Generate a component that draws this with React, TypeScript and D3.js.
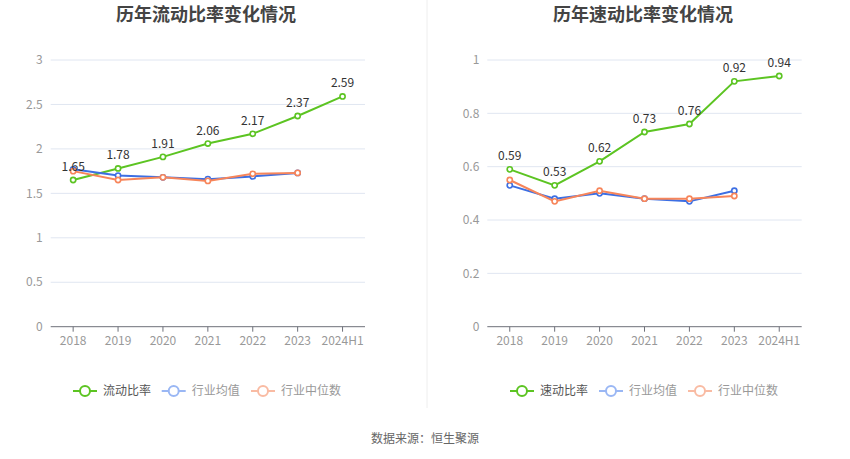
import React from "react";
import * as d3 from "d3";

const categories = ["2018", "2019", "2020", "2021", "2022", "2023", "2024H1"];

const currentRatio = [1.65, 1.78, 1.91, 2.06, 2.17, 2.37, 2.59];
const currentIndustryAvg = [1.77, 1.7, 1.68, 1.66, 1.69, 1.73];
const currentIndustryMedian = [1.75, 1.65, 1.68, 1.64, 1.72, 1.73];
const currentTicks = [0, 0.5, 1, 1.5, 2, 2.5, 3];

const quickRatio = [0.59, 0.53, 0.62, 0.73, 0.76, 0.92, 0.94];
const quickIndustryAvg = [0.53, 0.48, 0.5, 0.48, 0.47, 0.51];
const quickIndustryMedian = [0.55, 0.47, 0.51, 0.48, 0.48, 0.49];
const quickTicks = [0, 0.2, 0.4, 0.6, 0.8, 1];

const GREEN = "#5cc422";
const BLUE = "#3d6fe3";
const ORANGE = "#f7855a";
const FONT = "'Noto Sans CJK SC', 'Noto Sans', sans-serif";

type PanelProps = {
  title: string;
  titleX: number;
  x0: number;
  x1: number;
  yMax: number;
  ticks: number[];
  main: number[];
  avg: number[];
  median: number[];
  legendMain: string;
  legendX: number[];
};

function Panel(p: PanelProps) {
  const yTop = 60;
  const yBottom = 326.7;
  const x = d3.scaleBand<string>().domain(categories).range([p.x0, p.x1]);
  const cx = (c: string) => (x(c) as number) + x.bandwidth() / 2;
  const y = d3.scaleLinear().domain([0, p.yMax]).range([yBottom, yTop]);
  const line = d3
    .line<number>()
    .x((_, i) => cx(categories[i]))
    .y((d) => y(d));

  const series = [
    { data: p.main, color: GREEN },
    { data: p.avg, color: BLUE },
    { data: p.median, color: ORANGE },
  ];
  const legendItems = [
    { label: p.legendMain, color: GREEN, text: "#555" },
    { label: "行业均值", color: "#9ab7f4", text: "#999" },
    { label: "行业中位数", color: "#f9bba3", text: "#999" },
  ];

  return (
    <g>
      <text
        x={p.titleX}
        y={21}
        textAnchor="middle"
        fontSize={18}
        fontWeight="bold"
        fill="#444"
        fontFamily={FONT}
      >
        {p.title}
      </text>
      {p.ticks.map((t) => (
        <g key={t}>
          {t !== 0 && (
            <line x1={p.x0} x2={p.x1} y1={y(t)} y2={y(t)} stroke="#e0e6f1" strokeWidth={1} />
          )}
          <text
            x={p.x0 - 8}
            y={y(t)}
            dy="0.35em"
            textAnchor="end"
            fontSize={12}
            fill="#999"
            fontFamily={FONT}
          >
            {t}
          </text>
        </g>
      ))}
      <line x1={p.x0} x2={p.x1} y1={yBottom} y2={yBottom} stroke="#6e7079" strokeWidth={1} />
      {categories.map((c) => (
        <g key={c}>
          <line x1={cx(c)} x2={cx(c)} y1={yBottom} y2={yBottom + 5} stroke="#6e7079" strokeWidth={1} />
          <text
            x={cx(c)}
            y={yBottom + 18}
            textAnchor="middle"
            fontSize={12}
            fill="#999"
            fontFamily={FONT}
          >
            {c}
          </text>
        </g>
      ))}
      {series.map((s, si) => (
        <g key={si}>
          <path d={line(s.data) || ""} fill="none" stroke={s.color} strokeWidth={2} />
          {s.data.map((v, i) => (
            <circle
              key={i}
              cx={cx(categories[i])}
              cy={y(v)}
              r={2.6}
              fill="#fff"
              stroke={s.color}
              strokeWidth={1.6}
            />
          ))}
        </g>
      ))}
      {p.main.map((v, i) => (
        <text
          key={i}
          x={cx(categories[i])}
          y={y(v) - 9}
          textAnchor="middle"
          fontSize={12}
          fill="#333"
          fontFamily={FONT}
        >
          {v.toFixed(2)}
        </text>
      ))}
      {legendItems.map((it, i) => (
        <g key={i}>
          <line
            x1={p.legendX[i]}
            x2={p.legendX[i] + 24}
            y1={391}
            y2={391}
            stroke={it.color}
            strokeWidth={2}
          />
          <circle cx={p.legendX[i] + 12} cy={391} r={5} fill="#fff" stroke={it.color} strokeWidth={2} />
          <text
            x={p.legendX[i] + 30}
            y={391}
            dy="0.35em"
            fontSize={12}
            fill={it.text}
            fontFamily={FONT}
          >
            {it.label}
          </text>
        </g>
      ))}
    </g>
  );
}

export default function App() {
  return (
    <svg
      width={850}
      height={459}
      style={{ position: "absolute", left: 0, top: 0, background: "#fff" }}
    >
      <rect width={850} height={459} fill="#fff" />
      <Panel
        title="历年流动比率变化情况"
        titleX={206}
        x0={50.7}
        x1={365}
        yMax={3}
        ticks={currentTicks}
        main={currentRatio}
        avg={currentIndustryAvg}
        median={currentIndustryMedian}
        legendMain="流动比率"
        legendX={[73, 161.7, 251]}
      />
      <Panel
        title="历年速动比率变化情况"
        titleX={643}
        x0={487.3}
        x1={801.7}
        yMax={1}
        ticks={quickTicks}
        main={quickRatio}
        avg={quickIndustryAvg}
        median={quickIndustryMedian}
        legendMain="速动比率"
        legendX={[510, 599, 688]}
      />
      <line x1={427} x2={427} y1={0} y2={408} stroke="#eee" strokeWidth={1} />
      <text
        x={425}
        y={443}
        textAnchor="middle"
        fontSize={12}
        fill="#666"
        fontFamily={FONT}
      >
        数据来源：恒生聚源
      </text>
    </svg>
  );
}
